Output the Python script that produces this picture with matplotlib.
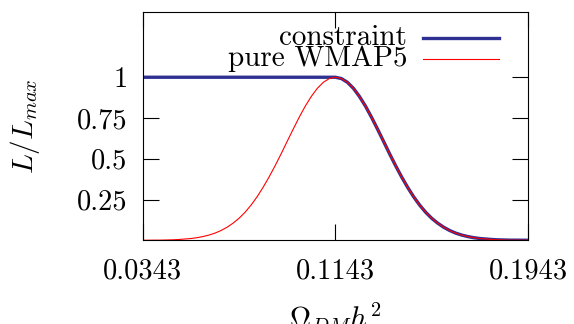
import matplotlib
matplotlib.use("Agg")
import matplotlib.pyplot as plt

plt.rcParams["font.family"] = "serif"
plt.rcParams["font.serif"] = ["cmr10", "DejaVu Serif"]
plt.rcParams["mathtext.fontset"] = "cm"
plt.rcParams["axes.unicode_minus"] = False

omega = [0.0343, 0.0368, 0.0393, 0.0418, 0.0443, 0.0468, 0.0493, 0.0518,
         0.0543, 0.0568, 0.0593, 0.0618, 0.0643, 0.0668, 0.0693, 0.0718,
         0.0743, 0.0768, 0.0793, 0.0818, 0.0843, 0.0868, 0.0893, 0.0918,
         0.0943, 0.0968, 0.0993, 0.1018, 0.1043, 0.1068, 0.1093, 0.1118,
         0.1143,
         0.1168, 0.1193, 0.1218, 0.1243, 0.1268, 0.1293, 0.1318, 0.1343,
         0.1368, 0.1393, 0.1418, 0.1443, 0.1468, 0.1493, 0.1518, 0.1543,
         0.1568, 0.1593, 0.1618, 0.1643, 0.1668, 0.1693, 0.1718, 0.1743,
         0.1768, 0.1793, 0.1818, 0.1843, 0.1868, 0.1893, 0.1918, 0.1943]

wmap5 = [0.0003, 0.0005, 0.001, 0.001, 0.002, 0.003, 0.005, 0.008,
         0.011, 0.016, 0.023, 0.032, 0.044, 0.060, 0.080, 0.105,
         0.135, 0.172, 0.216, 0.267, 0.325, 0.389, 0.458, 0.531,
         0.607, 0.682, 0.755, 0.823, 0.882, 0.932, 0.969, 0.992,
         1.000,
         0.992, 0.969, 0.932, 0.882, 0.823, 0.755, 0.682, 0.607,
         0.531, 0.458, 0.389, 0.325, 0.267, 0.216, 0.172, 0.135,
         0.105, 0.080, 0.060, 0.044, 0.032, 0.023, 0.016, 0.011,
         0.008, 0.005, 0.003, 0.002, 0.001, 0.001, 0.0005, 0.0003]

constraint = [1.0] * 33 + [
         0.992, 0.969, 0.932, 0.882, 0.823, 0.755, 0.682, 0.607,
         0.531, 0.458, 0.389, 0.325, 0.267, 0.216, 0.172, 0.135,
         0.105, 0.080, 0.060, 0.044, 0.032, 0.023, 0.016, 0.011,
         0.008, 0.005, 0.003, 0.002, 0.001, 0.001, 0.0005, 0.0003]

xticks = [0.0343, 0.1143, 0.1943]
xticklabels = ["0.0343", "0.1143", "0.1943"]
yticks = [0.25, 0.5, 0.75, 1.0]
yticklabels = ["0.25", "0.5", "0.75", "1"]

blue = "#2e3192"
red = "#ff0000"

fig = plt.figure(figsize=(5.74, 3.24), dpi=100)
ax = fig.add_axes([0.2486, 0.2583, 0.6713, 0.7046])

ax.plot(omega, constraint, color=blue, lw=2.4, solid_capstyle="butt")
ax.plot(omega, wmap5, color=red, lw=0.8)

ax.set_xlim(0.0343, 0.1943)
ax.set_ylim(0, 1.4)
ax.set_xticks(xticks)
ax.set_xticklabels(xticklabels)
ax.set_yticks(yticks)
ax.set_yticklabels(yticklabels)
ax.tick_params(direction="in", length=11.5, width=0.8, top=True, right=True,
               labelsize=20.5)
ax.tick_params(axis="x", pad=13)
ax.tick_params(axis="y", pad=11)
for s in ax.spines.values():
    s.set_linewidth(0.8)

ax.set_xlabel(r"$\Omega_{DM}h^2$", fontsize=21, labelpad=12)
ax.set_ylabel(r"$L/L_{max}$", fontsize=21, labelpad=25)

# gnuplot style key: text left, sample line right
key = [("constraint", blue, 2.4, 0.886), ("pure WMAP5", red, 0.8, 0.795)]
for label, col, lw, ky in key:
    ax.text(0.686, ky, label, transform=ax.transAxes, ha="right",
            va="center", fontsize=21)
    ax.plot([0.7275, 0.925], [ky, ky], transform=ax.transAxes, color=col,
            lw=lw, clip_on=False)

fig.savefig("out.png", dpi=100)
